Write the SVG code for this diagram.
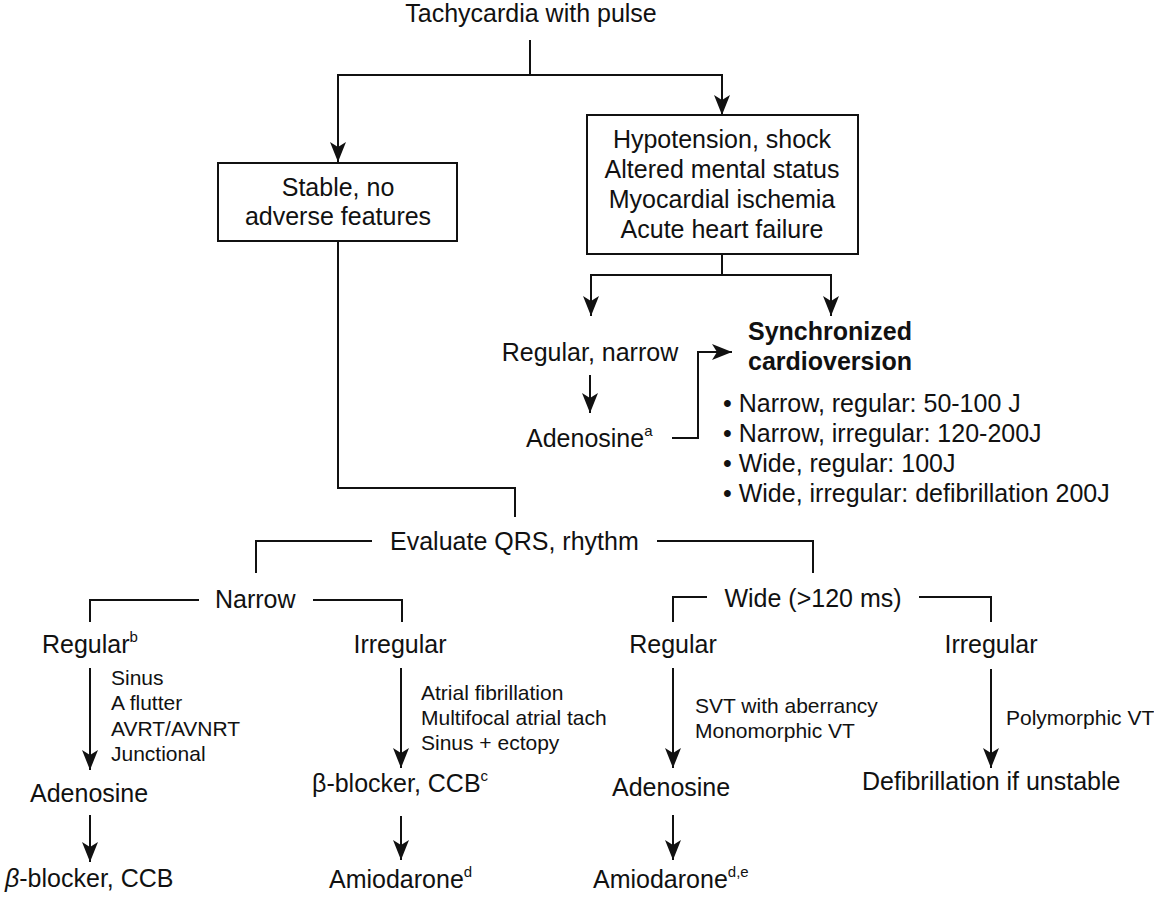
<svg xmlns="http://www.w3.org/2000/svg" width="1154" height="897" viewBox="0 0 1154 897">
<style>
text{font-family:"Liberation Sans",Arial,sans-serif;fill:#111;}
.m{font-size:25px;}
.s{font-size:21px;}
.b{font-size:25px;font-weight:bold;}
.c{text-anchor:middle;}
.sup{font-size:15px;}
.box{fill:#fff;stroke:#111;stroke-width:2;}
.ln{fill:none;stroke:#111;stroke-width:2;}
.ar{fill:none;stroke:#111;stroke-width:2;marker-end:url(#ah);}
</style>
<defs>
<marker id="ah" markerUnits="userSpaceOnUse" viewBox="-1 -9 22 18" markerWidth="22" markerHeight="18" refX="20" refY="0" orient="auto">
<path d="M0 -8 L20 0 L0 8 L5 0 Z" fill="#111"/>
</marker>
</defs>
<rect width="1154" height="897" fill="#fff"/>
<g id="connectors">
<path class="ln" d="M530 40 V75"/>
<path class="ar" d="M530 75 H338 V162"/>
<path class="ar" d="M530 75 H722 V115"/>
<path class="ln" d="M722 254 V275"/>
<path class="ar" d="M722 275 H591 V316"/>
<path class="ar" d="M722 275 H831 V316"/>
<path class="ar" d="M590 375 V413"/>
<path class="ar" d="M672 438 H698 V352 H732"/>
<path class="ln" d="M338 241 V488 H515 V517"/>
<path class="ln" d="M372 541 H256 V573"/>
<path class="ln" d="M657 541 H813 V573"/>
<path class="ln" d="M199 600 H90 V622"/>
<path class="ln" d="M313 600 H402 V622"/>
<path class="ln" d="M707 597 H673 V622"/>
<path class="ln" d="M919 597 H991 V622"/>
<path class="ar" d="M90 668 V770"/>
<path class="ar" d="M90 815 V862"/>
<path class="ar" d="M401 668 V768"/>
<path class="ar" d="M401 816 V860"/>
<path class="ar" d="M673 668 V768"/>
<path class="ar" d="M673 815 V860"/>
<path class="ar" d="M991 669 V768"/>
</g>
<g id="n-title"><text class="m c" x="531" y="22">Tachycardia with pulse</text></g>
<g id="n-stable">
<rect class="box" x="218" y="163" width="239" height="78"/>
<text class="m c" x="338" y="196">Stable, no</text>
<text class="m c" x="338" y="225">adverse features</text>
</g>
<g id="n-unstable">
<rect class="box" x="587" y="115" width="271" height="139"/>
<text class="m c" x="722" y="148">Hypotension, shock</text>
<text class="m c" x="722" y="178">Altered mental status</text>
<text class="m c" x="722" y="208">Myocardial ischemia</text>
<text class="m c" x="722" y="238">Acute heart failure</text>
</g>
<g id="n-regnarrow"><text class="m c" x="590" y="361">Regular, narrow</text></g>
<g id="n-adeno-a"><text class="m" x="526" y="447">Adenosine<tspan class="sup" dy="-11">a</tspan></text></g>
<g id="n-sync">
<text class="b" x="748" y="340">Synchronized</text>
<text class="b" x="748" y="370">cardioversion</text>
<text class="m" x="723" y="412">• Narrow, regular: 50-100 J</text>
<text class="m" x="723" y="442">• Narrow, irregular: 120-200J</text>
<text class="m" x="723" y="472">• Wide, regular: 100J</text>
<text class="m" x="723" y="502">• Wide, irregular: defibrillation 200J</text>
</g>
<g id="n-evaluate"><text class="m" x="390" y="550">Evaluate QRS, rhythm</text></g>
<g id="n-narrow"><text class="m" x="215" y="608">Narrow</text></g>
<g id="n-wide"><text class="m c" x="813" y="607">Wide (&gt;120 ms)</text></g>
<g id="n-n-regular"><text class="m" x="42" y="653">Regular<tspan class="sup" dy="-11">b</tspan></text></g>
<g id="n-n-irregular"><text class="m c" x="400" y="653">Irregular</text></g>
<g id="n-w-regular"><text class="m c" x="673" y="653">Regular</text></g>
<g id="n-w-irregular"><text class="m c" x="991" y="653">Irregular</text></g>
<g id="l-n-regular">
<text class="s" x="111" y="685">Sinus</text>
<text class="s" x="111" y="710">A flutter</text>
<text class="s" x="111" y="736">AVRT/AVNRT</text>
<text class="s" x="111" y="761">Junctional</text>
</g>
<g id="l-n-irregular">
<text class="s" x="421" y="700">Atrial fibrillation</text>
<text class="s" x="421" y="725">Multifocal atrial tach</text>
<text class="s" x="421" y="750">Sinus + ectopy</text>
</g>
<g id="l-w-regular">
<text class="s" x="695" y="713">SVT with aberrancy</text>
<text class="s" x="695" y="738">Monomorphic VT</text>
</g>
<g id="l-w-irregular"><text class="s" x="1006" y="725">Polymorphic VT</text></g>
<g id="n-adeno-left"><text class="m" x="30" y="802">Adenosine</text></g>
<g id="n-bb-left"><text class="m" x="5" y="887"><tspan font-style="italic">β</tspan>-blocker, CCB</text></g>
<g id="n-bb-mid"><text class="m" x="312" y="792">β-blocker, CCB<tspan class="sup" dy="-11">c</tspan></text></g>
<g id="n-amio-mid"><text class="m" x="329" y="888">Amiodarone<tspan class="sup" dy="-11">d</tspan></text></g>
<g id="n-adeno-right"><text class="m" x="612" y="796">Adenosine</text></g>
<g id="n-amio-right"><text class="m" x="593" y="888">Amiodarone<tspan class="sup" dy="-11">d,e</tspan></text></g>
<g id="n-defib"><text class="m" x="862" y="790">Defibrillation if unstable</text></g>
</svg>
